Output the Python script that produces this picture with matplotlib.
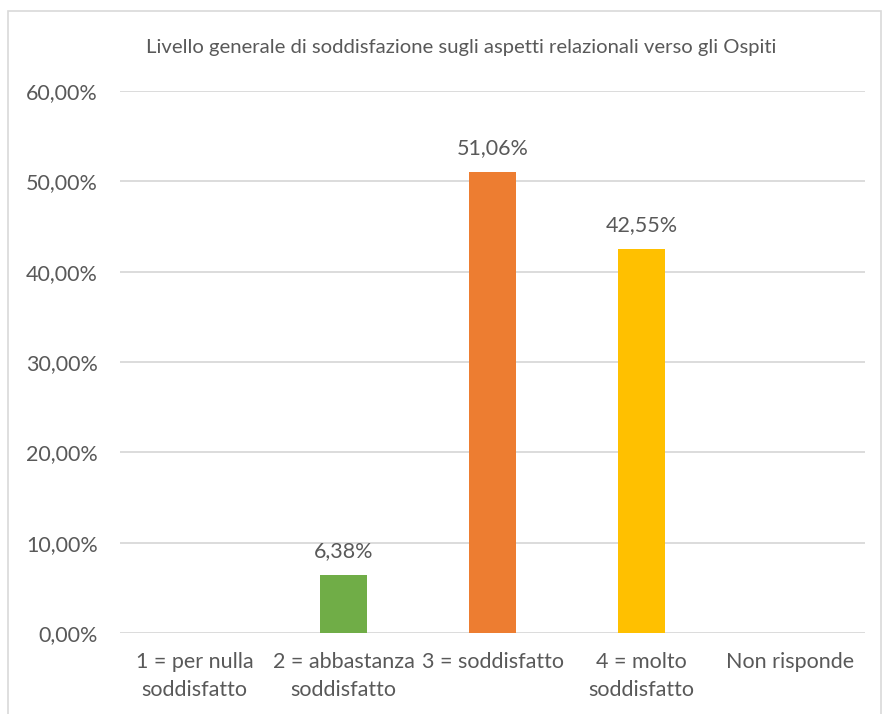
import numpy as np
import matplotlib.pyplot as plt
from matplotlib.patches import Rectangle

plt.rcParams['font.family'] = ['Lato', 'DejaVu Sans']

# dati
categorie = ["1 = per nulla\nsoddisfatto", "2 = abbastanza\nsoddisfatto",
             "3 = soddisfatto", "4 = molto\nsoddisfatto", "Non risponde"]
valori = [0.0, 6.38, 51.06, 42.55, 0.0]
colori = ["#5B9BD5", "#70AD47", "#ED7D31", "#FFC000", "#4472C4"]
titolo = "Livello generale di soddisfazione sugli aspetti relazionali verso gli Ospiti"

grigio = "#595959"

fig = plt.figure(figsize=(8.85, 7.14), dpi=100)
W, H = 885, 714
ax = fig.add_axes([120 / W, 1 - 633 / H, (865 - 120) / W, (633 - 91) / H])

x = np.arange(len(categorie))
bars = ax.bar(x, valori, width=0.315, color=colori, zorder=3)

for xi, v in zip(x, valori):
    if v > 0:
        ax.annotate(f"{v:.2f}%".replace(".", ","), (xi, v), xytext=(0, 10),
                    textcoords="offset points", ha="center", va="bottom",
                    fontsize=15.5, color=grigio)

ax.set_xlim(-0.5, len(categorie) - 0.5)
ax.set_ylim(0, 60)
ax.set_yticks(np.arange(0, 61, 10))
ax.set_yticklabels([f"{t:.2f}%".replace(".", ",") for t in np.arange(0, 61, 10)])
ax.set_xticks(x)
ax.set_xticklabels(categorie, linespacing=1.45)
ax.tick_params(axis="both", length=0, labelsize=15.5, labelcolor=grigio)
ax.tick_params(axis="y", pad=16)
ax.tick_params(axis="x", pad=14)
ax.grid(axis="y", color="#D9D9D9", linewidth=1.3, zorder=0)
for s in ax.spines.values():
    s.set_visible(False)

fig.text(0.5 * (145 + 778) / W, 1 - 47 / H, titolo, ha="center", va="center",
         fontsize=14.6, color=grigio)

# cornice del grafico
fig.patches.append(Rectangle((8 / W, -0.05), (881 - 8) / W, 1.05 - 11 / H,
                             transform=fig.transFigure, fill=False,
                             edgecolor="#D9D9D9", linewidth=1.2))

fig.savefig("out.png", dpi=100)
